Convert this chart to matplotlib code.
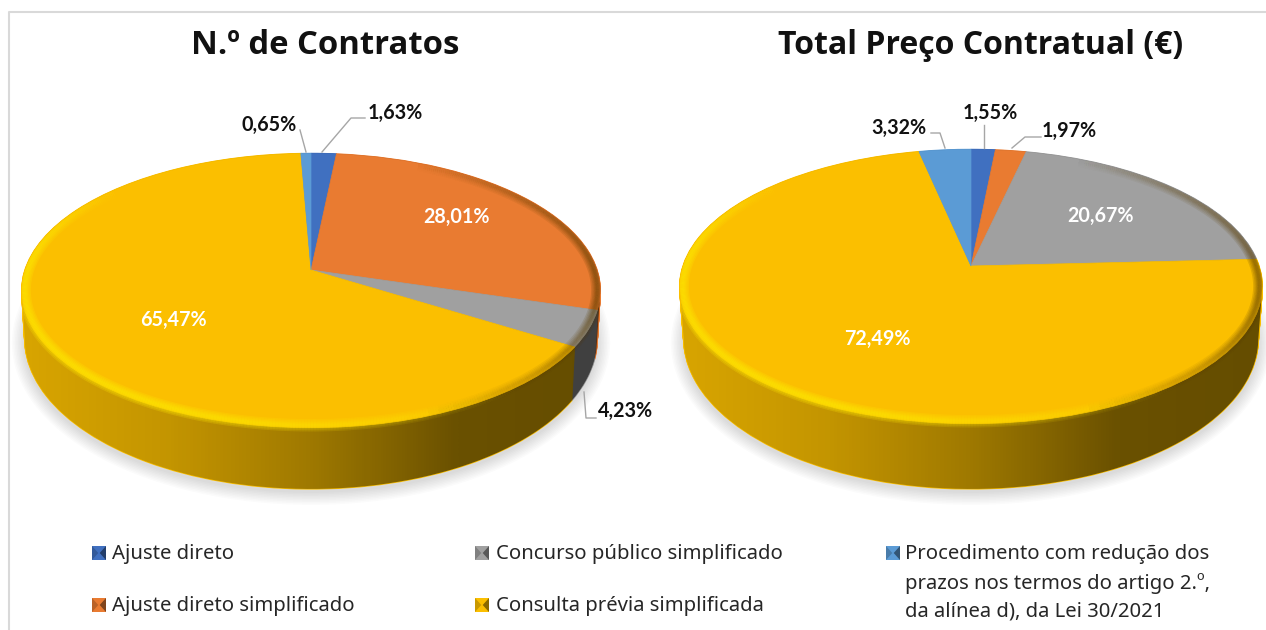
import numpy as np
import matplotlib
matplotlib.use("Agg")
import matplotlib.pyplot as plt
from matplotlib.collections import LineCollection
from matplotlib.patches import Ellipse, PathPatch
from matplotlib.path import Path
from matplotlib.transforms import Affine2D, Transform

# slices run clockwise from 12 o'clock
contratos_pct = [1.63, 28.01, 4.23, 65.47, 0.65]
preco_pct = [1.55, 1.97, 20.67, 72.49, 3.32]
titles = ["N.º de Contratos", "Total Preço Contratual (€)"]
legend_labels = [
    "Ajuste direto",
    "Ajuste direto simplificado",
    "Concurso público simplificado",
    "Consulta prévia simplificada",
    "Procedimento com redução dos\nprazos nos termos do artigo 2.º,\nda alínea d), da Lei 30/2021",
]
colors = ["#4070C0", "#E97B31", "#A0A0A0", "#FBBF00", "#5B9BD5"]
FONT = "Noto Sans"
BOLD_FONT = "Open Sans"


class Perspective(Transform):
    # tilts the unit disc: circle stays an ellipse, centre moves towards the back
    input_dims = 2
    output_dims = 2

    def __init__(self, k):
        super().__init__()
        self.k = k

    def transform_non_affine(self, xy):
        xy = np.asarray(xy, dtype=float)
        return xy / (1 + self.k * xy[:, 1])[:, None]


def disc_transform(apex_x, apex_y, sx, sy, k=0.15):
    return Perspective(k) + Affine2D().scale(sx, -sy).translate(apex_x, apex_y)


def outline(tr, n=720):
    theta = np.linspace(0, 2 * np.pi, n)
    return theta, tr.transform(np.column_stack([np.cos(theta), np.sin(theta)]))


def draw_pie(ax, values, top, bottom, levels=64):
    _, top_pts = outline(disc_transform(*top))
    _, bot_pts = outline(disc_transform(*bottom))

    # outer silhouette of the whole disc, clips wall and bevel
    upper = top_pts[top_pts[:, 1] <= top_pts[np.argmin(top_pts[:, 0]), 1]]
    upper = upper[np.argsort(upper[:, 0])]
    lower = bot_pts[bot_pts[:, 1] >= bot_pts[np.argmin(bot_pts[:, 0]), 1]]
    lower = lower[np.argsort(-lower[:, 0])]
    sil = np.vstack([upper, lower, upper[:1]])
    clip = PathPatch(Path(sil), transform=ax.transData, fc="none", ec="none")
    ax.add_patch(clip)

    # shadow under the disc
    for i in range(9):
        ax.add_patch(Ellipse((bottom[0], bottom[1] + 24 + 3), 2 * bottom[2] / 0.989 + 2 + 3 * i,
                             2 * bottom[3] * 1.02 + 3 * i, fc="k", ec="none", alpha=0.014, zorder=0))

    # side wall: stack of discs from the bottom one up to the top one
    for f in np.linspace(0, 1, levels):
        p = [b + (t - b) * f for t, b in zip(top, bottom)]
        wedges, _ = ax.pie(values, colors=colors, startangle=90, counterclock=False, labeldistance=None,
                           wedgeprops={"linewidth": 1, "edgecolor": "none"})
        tr = disc_transform(*p)
        for w, c in zip(wedges, colors):
            w.set_edgecolor(c)
            w.set_transform(tr + ax.transData)
            w.set_zorder(1)
            w.set_clip_path(clip)

    # horizontal shading of the wall
    x0, x1 = top_pts[:, 0].min(), top_pts[:, 0].max()
    y0, y1 = top_pts[:, 1].min(), bot_pts[:, 1].max()
    grad = np.zeros((2, 256, 4))
    grad[..., 3] = np.interp(np.linspace(0, 1, 256), [0, 0.25, 0.5, 0.75, 1], [0.14, 0.22, 0.37, 0.58, 0.6])
    im = ax.imshow(grad, extent=(x0, x1, y1, y0), aspect="auto", zorder=2, interpolation="bilinear")
    im.set_clip_path(clip)

    # top face
    wedges, _ = ax.pie(values, colors=colors, startangle=90, counterclock=False, labeldistance=None,
                       wedgeprops={"linewidth": 0.5, "edgecolor": "none"})
    tr = disc_transform(*top)
    for w, c in zip(wedges, colors):
        w.set_edgecolor(c)
        w.set_transform(tr + ax.transData)
        w.set_zorder(5)
        w.set_clip_path(clip)

    # bevel just inside the rim: light at the front left, dark at the right
    ring = disc_transform(top[0], top[1], top[2] * 0.99, top[3] * 0.985)
    theta, pts = outline(ring)
    mid = np.degrees(theta)[:-1]
    segs = np.stack([pts[:-1], pts[1:]], axis=1)
    light = np.interp(mid, [0, 135, 175, 245, 285, 310, 360], [0, 0, 1, 1, 0.45, 0, 0])
    dark = np.interp(mid, [0, 40, 65, 290, 315, 345, 360], [0.65, 0.3, 0, 0, 0.25, 0.65, 0.65])
    for lw in [9, 7, 5, 3.5, 2]:
        for col, amount in [("#FFE600", light), ("#5A3C00", dark)]:
            rgba = np.zeros((len(mid), 4))
            rgba[:, :3] = matplotlib.colors.to_rgb(col)
            rgba[:, 3] = amount * 0.24
            lc = LineCollection(segs, colors=rgba, linewidths=lw, zorder=6, capstyle="butt")
            ax.add_collection(lc)
            lc.set_clip_path(clip)


fig = plt.figure(figsize=(12.66, 6.3), dpi=100)
ax = fig.add_axes([0, 0, 1, 1])

# apex x, apex y, x scale, y scale of the top and bottom disc
draw_pie(ax, contratos_pct, (311, 270, 286, 134), (311, 316, 283, 147))
draw_pie(ax, preco_pct, (971, 266, 288, 134), (971, 316, 284, 147))

ax.set_aspect("auto")
ax.set_xlim(0, 1266)
ax.set_ylim(630, 0)
ax.axis("off")

# chart frame
ax.plot([9, 9, 1266], [630, 12, 12], color="#D9D9D9", lw=1.5, zorder=0)

ax.text(325, 46, titles[0], fontsize=23.7, fontweight="bold", family=BOLD_FONT, ha="center", va="center", color="#111111")
ax.text(981, 46, titles[1], fontsize=23, fontweight="bold", family=BOLD_FONT, ha="center", va="center", color="#111111")

# value labels: inside in white, outside in black with a leader
inside = [(contratos_pct[3], 173, 320), (contratos_pct[1], 456, 217), (preco_pct[2], 1100, 216), (preco_pct[3], 877, 339)]
for v, x, y in inside:
    ax.text(x, y, f"{v:.2f}%".replace(".", ","), color="white", fontsize=14.2, fontweight="bold", family="Lato",
            ha="center", va="center", zorder=8)

outside = [(contratos_pct[4], 269, 125), (contratos_pct[0], 395, 113), (contratos_pct[2], 626, 411),
           (preco_pct[4], 899, 128), (preco_pct[0], 990, 113), (preco_pct[1], 1069, 131)]
for v, x, y in outside:
    ax.text(x, y, f"{v:.2f}%".replace(".", ","), color="#111111", fontsize=14.2, fontweight="bold", family="Lato",
            ha="center", va="center", zorder=8)

leaders = [([300, 306], [130, 152]), ([365, 351, 322], [118, 118, 152]), ([584, 586, 596], [392, 418, 418]),
           ([931, 940, 945], [133, 133, 148]), ([984, 984], [125, 148]), ([1041, 1025, 1012], [137, 137, 148])]
for xs, ys in leaders:
    ax.plot(xs, ys, color="#A6A6A6", lw=1, zorder=8)

# legend
legend_pos = [(92, 553), (92, 605), (475, 553), (475, 605), (886, 553)]
for label, c, (x, y) in zip(legend_labels, colors, legend_pos):
    s = 14
    ax.fill([x, x + s, x + s, x], [y - s / 2, y - s / 2, y + s / 2, y + s / 2], color=c, lw=0, zorder=4)
    dark_c = tuple(v * 0.55 for v in matplotlib.colors.to_rgb(c))
    mid_c = tuple(v * 0.8 for v in matplotlib.colors.to_rgb(c))
    ax.fill([x + s, x + s, x + s * 0.55], [y - s / 2, y + s / 2, y], color=dark_c, lw=0, zorder=5)
    ax.fill([x, x, x + s * 0.45], [y - s / 2, y + s / 2, y], color=mid_c, lw=0, zorder=5)
    if "\n" in label:
        for i, line in enumerate(label.split("\n")):
            ax.text(905, y + 1.5 + i * 28.5, line, fontsize=14.6, family=FONT, va="center", color="#262626")
    else:
        ax.text(x + 20.5, y + 1.5, label, fontsize=14.6, family=FONT, va="center", color="#262626")

fig.savefig("out.png", dpi=100)
plt.close(fig)
